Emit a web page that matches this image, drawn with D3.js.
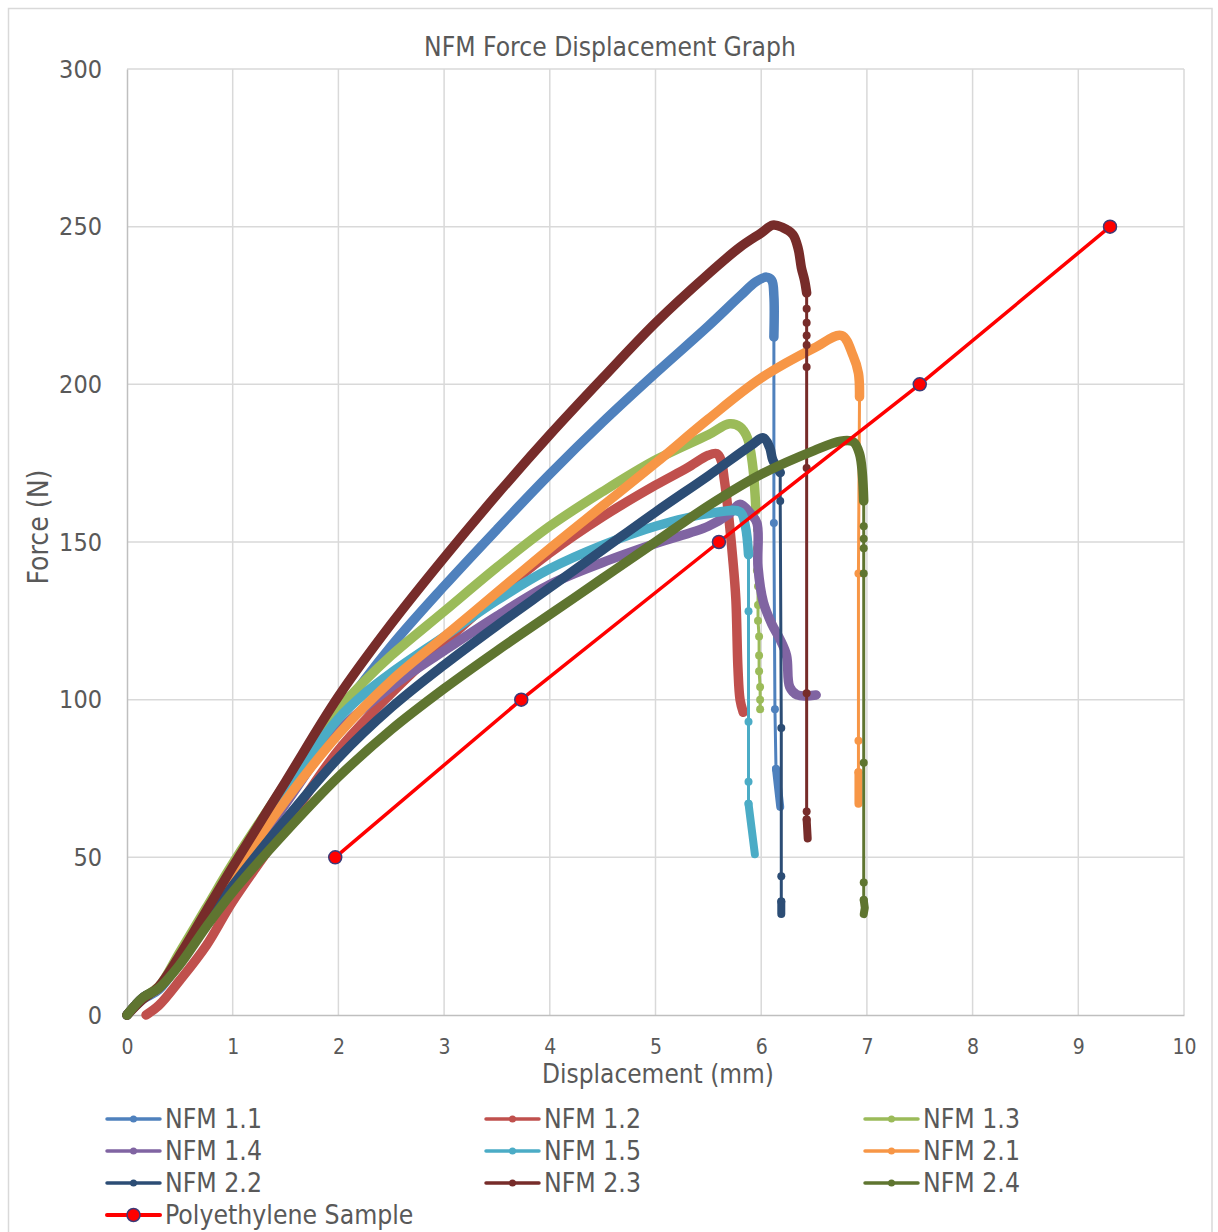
<!DOCTYPE html>
<html><head><meta charset="utf-8">
<script src="https://cdn.jsdelivr.net/npm/d3@7"></script>
<style>
body{margin:0;background:#fff}
svg{display:block}
text{font-family:"DejaVu Sans Condensed","DejaVu Sans",sans-serif;fill:#595959}
</style>
</head><body>
<svg id="chart" width="1218" height="1232"></svg>
<script>
// ---------- data ----------
const chartTitle = "NFM Force Displacement Graph";
const xLabel = "Displacement (mm)";
const yLabel = "Force (N)";
const xTicks = [0,1,2,3,4,5,6,7,8,9,10];
const yTicks = [0,50,100,150,200,250,300];

const seriesNames = ["NFM 1.1","NFM 1.2","NFM 1.3","NFM 1.4","NFM 1.5","NFM 2.1","NFM 2.2","NFM 2.3","NFM 2.4"];
const seriesColors = ["#4F81BD","#C0504D","#9BBB59","#8064A2","#4BACC6","#F79646","#2C4D75","#772C2A","#5F7530"];

// loading part (dense samples -> thick band), drop part (sparse samples), tail (dense again)
const load11 = [[0,0],[0.15,5],[0.3,8],[0.5,17],[0.75,30],[1,44],[1.5,70],[2,95],[2.5,117],[3,136],[3.5,154],[4,171.5],[4.5,188],[5,203.5],[5.5,218.5],[5.8,228],[5.95,232.5],[6.05,234],[6.1,233],[6.12,228],[6.12,215]];
const drop11 = [[6.12,215],[6.12,156],[6.13,97],[6.14,78]];
const tail11 = [[6.14,78],[6.16,72],[6.18,66]];

const load12 = [[0.18,0],[0.3,3],[0.5,11],[0.75,22],[1,36],[1.5,60],[2,84],[2.5,102],[3,118],[3.5,133],[4,146.5],[4.5,158],[5,168],[5.3,173.5],[5.5,177.5],[5.58,178],[5.62,176],[5.65,170],[5.68,162],[5.73,145],[5.76,132],[5.78,110],[5.8,100],[5.83,96]];
const drop12 = [];
const tail12 = [];

const load13 = [[0,0],[0.15,5.5],[0.3,9],[0.5,20],[0.75,34],[1,48],[1.5,73.5],[1.75,86],[2,97],[2.25,106],[2.5,114],[3,128],[3.5,142],[4,155],[4.5,166],[5,176],[5.5,184],[5.7,187.5],[5.8,186.5],[5.87,183],[5.92,174],[5.95,160]];
const drop13 = [[5.95,160],[5.96,154],[5.96,148],[5.96,141],[5.97,136],[5.97,130],[5.97,125],[5.98,120],[5.98,114],[5.98,109],[5.99,104],[5.99,100],[5.99,97]];
const tail13 = [];

const load14 = [[0,0],[0.15,5.5],[0.3,8.5],[0.5,18],[0.75,30],[1,43],[1.5,67],[2,90],[2.5,104],[3,115.5],[3.5,126.5],[4,136.5],[4.5,143.5],[5,149.5],[5.5,155],[5.7,159],[5.8,162],[5.9,159],[5.96,156],[5.97,142],[6.02,131],[6.1,124],[6.18,119],[6.24,114],[6.27,104],[6.34,101.5],[6.52,101.5]];
const drop14 = [];
const tail14 = [];

const load15 = [[0,0],[0.15,5.5],[0.3,8.5],[0.5,18],[0.75,31],[1,45],[1.5,69],[1.75,83],[2,94],[2.25,102],[2.5,108.5],[3,120],[3.5,131.5],[4,141.5],[4.5,149],[5,155],[5.5,159],[5.8,159.5],[5.85,155],[5.88,146]];
const drop15 = [[5.88,146],[5.88,128],[5.88,93],[5.88,74],[5.88,67]];
const tail15 = [[5.88,67],[5.91,59],[5.94,51]];

const load21 = [[0,0],[0.15,5.5],[0.3,8.5],[0.5,18],[0.75,31],[1,44],[1.5,68],[2,89],[2.5,106],[3,120],[3.5,134],[4,148],[4.5,161.5],[5,175],[5.5,189],[6,202],[6.5,211.5],[6.76,215.5],[6.87,209],[6.92,203.5],[6.93,196]];
const drop21 = [[6.93,196],[6.92,140],[6.92,87],[6.92,77]];
const tail21 = [[6.92,77],[6.92,67]];

const load22 = [[0,0],[0.15,5.5],[0.3,8.5],[0.5,17],[0.75,29],[1,41],[1.5,62],[2,81.5],[2.5,97.5],[3,111],[3.5,123.5],[4,135.5],[4.5,147.5],[5,159.5],[5.5,171],[5.9,180.5],[6.02,183],[6.08,180],[6.11,176],[6.18,172]];
const drop22 = [[6.18,172],[6.18,163],[6.19,91],[6.19,44],[6.19,36]];
const tail22 = [[6.19,36],[6.19,32]];

const load23 = [[0,0],[0.15,5],[0.3,9],[0.5,19],[0.75,33],[1,47],[1.5,74],[2,101],[2.5,124],[3,145],[3.5,165],[4,184],[4.5,202],[5,219.5],[5.5,235],[5.8,243.5],[6,248],[6.11,250.5],[6.2,249.8],[6.3,247.5],[6.35,243],[6.38,237],[6.41,233],[6.43,229]];
const drop23 = [[6.43,229],[6.43,224],[6.43,219.5],[6.43,215.5],[6.43,212.5],[6.43,205.5],[6.43,173.5],[6.43,102],[6.43,64.5],[6.43,62]];
const tail23 = [[6.43,62],[6.44,56]];

const load24 = [[0,0],[0.15,5.5],[0.3,8.5],[0.5,16],[0.75,28],[1,39],[1.5,58],[2,75.5],[2.5,90.5],[3,103.5],[3.5,115.5],[4,127],[4.5,138.5],[5,150],[5.5,161.5],[6,171.5],[6.5,179],[6.75,182],[6.87,181.8],[6.93,178],[6.97,163]];
const drop24 = [[6.97,163],[6.97,155],[6.97,151],[6.97,148],[6.97,140],[6.97,80],[6.97,42],[6.97,36.5]];
const tail24 = [[6.97,36.5],[6.98,34],[6.97,32]];

const peName = "Polyethylene Sample";
const peColor = "#FF0000";
const peX = [1.97,3.73,5.6,7.5,9.3];
const peY = [50,100,150,200,250];

// ---------- build ----------
const loads = [load11,load12,load13,load14,load15,load21,load22,load23,load24];
const drops = [drop11,drop12,drop13,drop14,drop15,drop21,drop22,drop23,drop24];
const tails = [tail11,tail12,tail13,tail14,tail15,tail21,tail22,tail23,tail24];
const series = seriesNames.map((n,i)=>({name:n,color:seriesColors[i],load:loads[i],drop:drops[i],tail:tails[i]}));

const svg = d3.select("#chart");
const x = d3.scaleLinear().domain([0,10]).range([127,1184]);
const y = d3.scaleLinear().domain([0,300]).range([1015,69]);

// outer border
svg.append("rect").attr("x",8.5).attr("y",8.5).attr("width",1203.5).attr("height",1240)
  .attr("fill","#fff").attr("stroke","#d9d9d9").attr("stroke-width",1.5);

// grid
const grid = svg.append("g");
grid.selectAll("line.v").data(xTicks.filter(d=>d>0)).join("line")
  .attr("x1",d=>x(d)).attr("x2",d=>x(d)).attr("y1",y(0)).attr("y2",y(300))
  .attr("stroke","#d9d9d9").attr("stroke-width",1.5);
grid.selectAll("line.h").data(yTicks.filter(d=>d>0)).join("line")
  .attr("x1",x(0)).attr("x2",x(10)).attr("y1",d=>y(d)).attr("y2",d=>y(d))
  .attr("stroke","#d9d9d9").attr("stroke-width",1.5);

// axes (no tick marks)
const xAxis = svg.append("g").attr("transform",`translate(0,${y(0)})`)
  .call(d3.axisBottom(x).tickValues(xTicks).tickSize(0).tickPadding(24).tickFormat(d3.format("d")));
const yAxis = svg.append("g").attr("transform",`translate(${x(0)},0)`)
  .call(d3.axisLeft(y).tickValues(yTicks).tickSize(0).tickPadding(25).tickFormat(d3.format("d")));
[xAxis,yAxis].forEach(a=>{
  a.select(".domain").attr("stroke","#bfbfbf").attr("stroke-width",1.5);
  a.selectAll("text").attr("fill","#595959").style("font-family",'"DejaVu Sans Condensed","DejaVu Sans",sans-serif');
});
xAxis.selectAll("text").style("font-size","21px");
yAxis.selectAll("text").style("font-size","25px");

// series
const lineGen = d3.line().x(d=>x(d[0])).y(d=>y(d[1]));
const smoothGen = d3.line().x(d=>x(d[0])).y(d=>y(d[1])).curve(d3.curveCatmullRom.alpha(0.5));
const plot = svg.append("g");
series.forEach(s=>{
  const g = plot.append("g");
  if (s.drop.length){
    g.append("path").attr("d",lineGen(s.drop)).attr("fill","none")
      .attr("stroke",s.color).attr("stroke-width",3);
    g.selectAll("circle").data(s.drop).join("circle")
      .attr("cx",d=>x(d[0])).attr("cy",d=>y(d[1])).attr("r",4).attr("fill",s.color);
  }
  g.append("path").attr("d",smoothGen(s.load)).attr("fill","none")
    .attr("stroke",s.color).attr("stroke-width",9.5).attr("stroke-linejoin","round").attr("stroke-linecap","round");
  if (s.tail.length){
    g.append("path").attr("d",lineGen(s.tail)).attr("fill","none")
      .attr("stroke",s.color).attr("stroke-width",8).attr("stroke-linejoin","round").attr("stroke-linecap","round");
  }
});

// polyethylene
const pe = peX.map((v,i)=>[v,peY[i]]);
plot.append("path").attr("d",lineGen(pe)).attr("fill","none").attr("stroke",peColor).attr("stroke-width",3.5);
plot.selectAll("circle.pe").data(pe).join("circle").attr("class","pe")
  .attr("cx",d=>x(d[0])).attr("cy",d=>y(d[1])).attr("r",6.5)
  .attr("fill",peColor).attr("stroke","#3c3a78").attr("stroke-width",1.5);

// titles
function fit(t, target){
  const w = t.node().getComputedTextLength();
  const fs = parseFloat(t.style("font-size"));
  t.style("font-size", (fs*target/w)+"px");
}
const tt = svg.append("text").attr("x",610).attr("y",56).attr("text-anchor","middle").style("font-size","20px").text(chartTitle);
fit(tt,372);
const xt = svg.append("text").attr("x",658).attr("y",1083).attr("text-anchor","middle").style("font-size","20px").text(xLabel);
fit(xt,232);
const yt = svg.append("text").attr("transform","translate(48,527) rotate(-90)").attr("text-anchor","middle").style("font-size","20px").text(yLabel);
fit(yt,115);

// legend
const legItems = series.map(s=>({name:s.name,color:s.color,big:false})).concat([{name:peName,color:peColor,big:true}]);
const colX = [107,486,865];
const rowY = [1119,1151,1183,1215];
const leg = svg.append("g");
let legFont = null;
legItems.forEach((d,i)=>{
  const cx = colX[i%3], cy = rowY[Math.floor(i/3)];
  const g = leg.append("g").attr("transform",`translate(${cx},${cy})`);
  g.append("line").attr("x1",0).attr("x2",53).attr("y1",0).attr("y2",0)
    .attr("stroke",d.color).attr("stroke-width",d.big?4:3.5).attr("stroke-linecap","round");
  g.append("circle").attr("cx",26.5).attr("cy",0).attr("r",d.big?6.5:3.5)
    .attr("fill",d.color).attr("stroke",d.big?"#3c3a78":"none").attr("stroke-width",1.5);
  const t = g.append("text").attr("x",58).attr("y",9).style("font-size","24px").text(d.name);
  if (i===0){ fit(t,97); legFont = t.style("font-size"); }
  else t.style("font-size",legFont);
});
</script>
</body></html>
